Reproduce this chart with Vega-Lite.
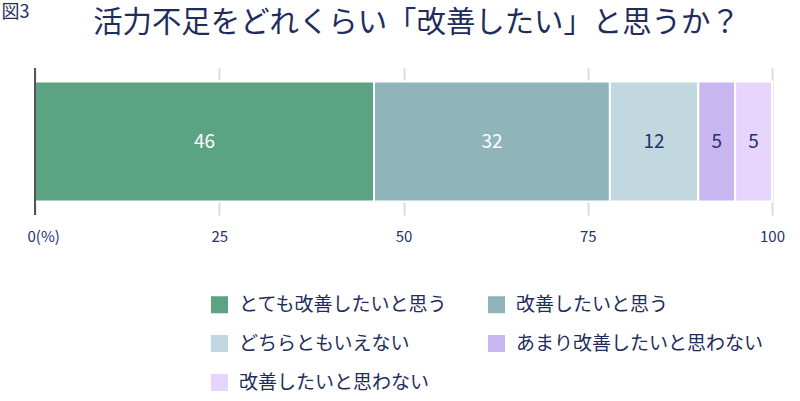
{
  "$schema": "https://vega.github.io/schema/vega-lite/v6.json",
  "autosize": {"type": "none"},
  "width": 737,
  "height": 147,
  "padding": {"left": 35, "top": 68, "right": 28, "bottom": 186},
  "background": "white",
  "config": {"font": "Noto Sans CJK JP", "view": {"stroke": null}},
  "title": {
    "text": "活力不足をどれくらい「改善したい」と思うか？",
    "fontSize": 29.4,
    "fontWeight": "normal",
    "color": "#1f2d5c",
    "anchor": "middle",
    "dx": 13,
    "offset": -49,
    "baseline": "middle"
  },
  "data": {
    "values": [
      {"q": "改善", "cat": "とても改善したいと思う", "value": 46, "order": 1},
      {"q": "改善", "cat": "改善したいと思う", "value": 32, "order": 2},
      {"q": "改善", "cat": "どちらともいえない", "value": 12, "order": 3},
      {"q": "改善", "cat": "あまり改善したいと思わない", "value": 5, "order": 4},
      {"q": "改善", "cat": "改善したいと思わない", "value": 5, "order": 5}
    ]
  },
  "layer": [
    {
      "mark": {"type": "bar", "stroke": "white", "strokeWidth": 2},
      "encoding": {
        "y": {
          "field": "q",
          "type": "nominal",
          "scale": {"paddingInner": 0, "paddingOuter": 0.1125},
          "axis": {
            "labels": false,
            "ticks": false,
            "domain": false,
            "title": "図3",
            "titleAngle": 0,
            "titleAlign": "left",
            "titleBaseline": "middle",
            "titleX": -34,
            "titleY": -56,
            "titleFontSize": 18,
            "titleFontWeight": "normal",
            "titleColor": "#1f2d5c"
          }
        },
        "x": {
          "field": "value",
          "type": "quantitative",
          "stack": "zero",
          "scale": {"domain": [0, 100], "nice": false},
          "axis": {
            "values": [0, 25, 50, 75, 100],
            "labelExpr": "datum.value == 0 ? '0(%)' : datum.label",
            "grid": true,
            "gridColor": "#dcdcdc",
            "gridWidth": 2,
            "ticks": false,
            "domain": false,
            "labelFlush": false,
            "labelAlign": {"condition": {"test": "datum.value === 0", "value": "left"}, "value": "center"},
            "labelOffset": {"condition": {"test": "datum.value === 0", "value": -8}, "value": 0},
            "labelFontSize": 15,
            "labelColor": "#23336b",
            "labelPadding": 14,
            "title": null
          }
        },
        "color": {
          "field": "cat",
          "type": "nominal",
          "sort": ["とても改善したいと思う", "改善したいと思う", "どちらともいえない", "あまり改善したいと思わない", "改善したいと思わない"],
          "scale": {
            "domain": ["とても改善したいと思う", "改善したいと思う", "どちらともいえない", "あまり改善したいと思わない", "改善したいと思わない"],
            "range": ["#5ba383", "#8fb4b9", "#c1d8e1", "#c8b6f0", "#e6d4fd"]
          },
          "legend": {
            "orient": "none",
            "direction": "horizontal",
            "legendX": 175,
            "legendY": 227,
            "columns": 2,
            "title": null,
            "symbolType": "square",
            "symbolSize": 289,
            "symbolStrokeWidth": 0,
            "symbolOpacity": 1,
            "labelFontSize": 19,
            "labelColor": "#1f2d5c",
            "labelOffset": 10,
            "labelLimit": 400,
            "rowPadding": 19,
            "columnPadding": 38,
            "padding": 0
          }
        },
        "order": {"field": "order"}
      }
    },
    {
      "mark": {"type": "text", "fontSize": 19},
      "encoding": {
        "y": {"field": "q", "type": "nominal"},
        "x": {"field": "value", "type": "quantitative", "stack": "zero", "bandPosition": 0.5},
        "detail": {"field": "cat"},
        "order": {"field": "order"},
        "text": {"field": "value"},
        "color": {"condition": {"test": "datum.order <= 2", "value": "white"}, "value": "#23336b"}
      }
    },
    {
      "mark": {"type": "rule", "color": "#555555", "strokeWidth": 2},
      "encoding": {"x": {"datum": 0}}
    }
  ]
}
